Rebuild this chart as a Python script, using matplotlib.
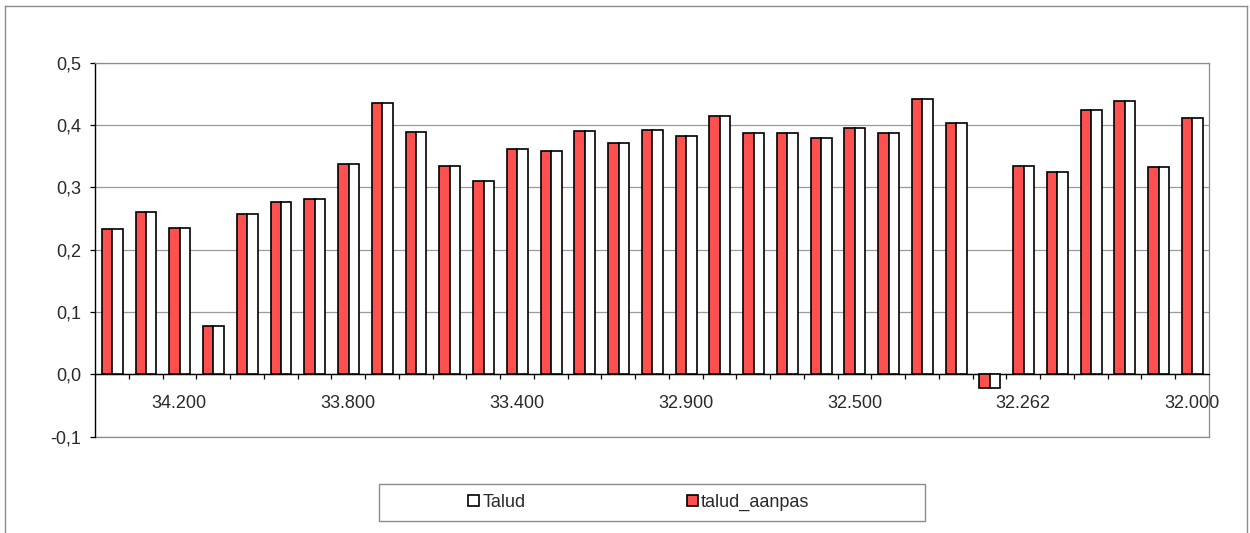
import matplotlib
matplotlib.use('Agg')
import matplotlib.pyplot as plt
import numpy as np
from matplotlib.patches import Patch, Rectangle
from matplotlib.lines import Line2D
from matplotlib.ticker import FuncFormatter, MultipleLocator

talud = [0.234, 0.260, 0.235, 0.078, 0.258, 0.277, 0.281, 0.337, 0.435, 0.389,
         0.335, 0.311, 0.361, 0.359, 0.391, 0.371, 0.392, 0.383, 0.415, 0.387,
         0.387, 0.380, 0.396, 0.388, 0.441, 0.403, -0.022, 0.334, 0.325, 0.424,
         0.439, 0.333, 0.412]
talud_aanpas = [0.234, 0.260, 0.235, 0.078, 0.258, 0.277, 0.281, 0.337, 0.435, 0.389,
                0.335, 0.311, 0.361, 0.359, 0.391, 0.371, 0.392, 0.383, 0.415, 0.387,
                0.387, 0.380, 0.396, 0.388, 0.441, 0.403, -0.022, 0.334, 0.325, 0.424,
                0.439, 0.333, 0.412]
tick_labels = ["34.200", "33.800", "33.400", "32.900", "32.500", "32.262", "32.000"]
label_start = 2
label_step = 5

plt.rcParams['font.family'] = ['Liberation Sans', 'DejaVu Sans']
plt.rcParams['font.size'] = 13

W, H = 1250, 533
fig = plt.figure(figsize=(W / 100, H / 100), dpi=100)
fig.patch.set_facecolor('white')

def fx(px):
    return px / W

def fy(py):
    return (H - py) / H

ax = fig.add_axes([fx(95), fy(436.7), fx(1209) - fx(95), fy(62.7) - fy(436.7)])

n = len(talud)
centers = np.arange(n) + 0.5
bw = 0.31
ax.bar(centers - bw / 2 + 0.01, talud_aanpas, bw, color='#FF5050', edgecolor='black', linewidth=1.2, zorder=3)
ax.bar(centers + bw / 2 + 0.01, talud, bw, color='white', edgecolor='black', linewidth=1.2, zorder=3)

ax.set_xlim(0, n)
ax.set_ylim(-0.1, 0.5)

# gridlines
ax.yaxis.set_major_locator(MultipleLocator(0.1))
ax.yaxis.grid(True, color='#9a9aa0', linewidth=0.9, zorder=0)
ax.set_axisbelow(True)
ax.yaxis.set_major_formatter(FuncFormatter(lambda v, p: f"{v:.1f}".replace('.', ',')))
ax.tick_params(axis='y', direction='out', length=3.6, width=0.9, pad=6.5, colors='black', labelcolor='#2a2a2a')

# category axis at zero
ax.spines['bottom'].set_position(('data', 0))
ax.spines['bottom'].set_color('black')
ax.spines['bottom'].set_linewidth(1.0)
ax.spines['left'].set_color('black')
ax.spines['left'].set_linewidth(1.0)
for s in ['top', 'right']:
    ax.spines[s].set_color('#8a8a90')
    ax.spines[s].set_linewidth(0.9)
ax.axhline(-0.1, color='#8a8a90', linewidth=0.9, clip_on=False, zorder=1)

ax.set_xticks(np.arange(1, n))
ax.set_xticklabels([])
ax.tick_params(axis='x', which='major', direction='out', length=3.6, width=0.9)
label_pos = [centers[label_start + i * label_step] for i in range(len(tick_labels))]
ax.set_xticks(label_pos, minor=True)
ax.set_xticklabels(tick_labels, minor=True)
ax.tick_params(axis='x', which='minor', length=0, pad=14.5, labelcolor='#2a2a2a')

# outer chart border
border_color = '#8a8a90'
fig.add_artist(Line2D([fx(5), fx(5)], [fy(6), fy(540)], color=border_color, lw=1.0, transform=fig.transFigure))
fig.add_artist(Line2D([fx(5), fx(1247)], [fy(6), fy(6)], color=border_color, lw=1.0, transform=fig.transFigure))
fig.add_artist(Line2D([fx(1247), fx(1247)], [fy(6), fy(540)], color=border_color, lw=1.0, transform=fig.transFigure))

# legend box
fig.add_artist(Rectangle((fx(379), fy(521)), fx(925) - fx(379), fy(484) - fy(521),
                         fill=False, edgecolor=border_color, lw=1.0, transform=fig.transFigure))
handles = [Patch(facecolor='white', edgecolor='black', lw=1.2, label='Talud'),
           Patch(facecolor='#FF5050', edgecolor='black', lw=1.2, label='talud_aanpas')]
fig.legend(handles=handles, loc='center', bbox_to_anchor=(fx(639), fy(502.5)), ncol=2,
           frameon=False, handlelength=0.6, handleheight=0.6, handletextpad=0.2,
           columnspacing=8.9, borderaxespad=0, fontsize=13, labelcolor='#2a2a2a')

fig.savefig('out.png', dpi=100)
